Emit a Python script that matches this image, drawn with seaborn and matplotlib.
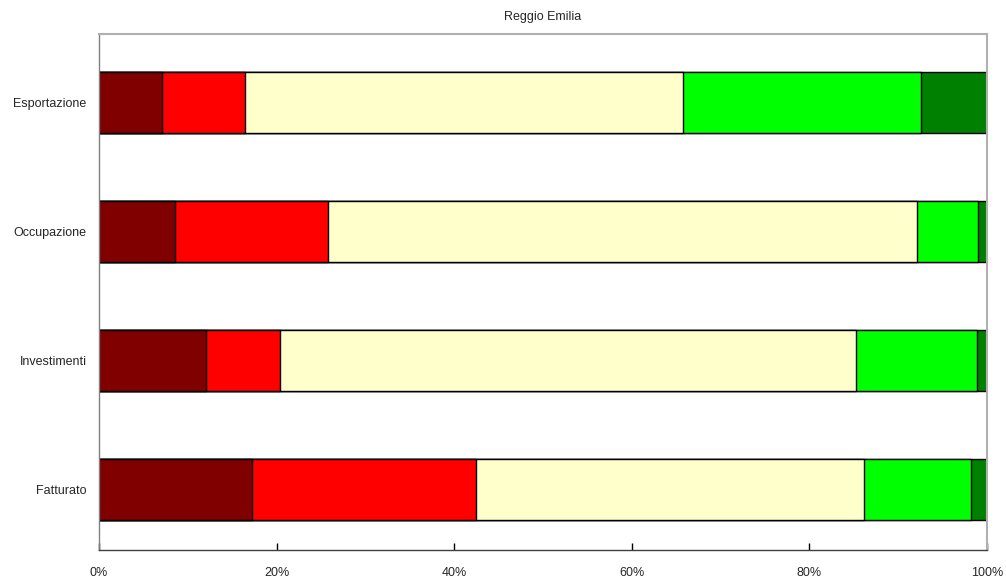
import matplotlib
matplotlib.use("Agg")
import matplotlib.pyplot as plt
import seaborn as sns
import numpy as np
import pandas as pd

# Survey outcomes per indicator (% of firms), from strong decrease to strong increase
categories = ["Esportazione", "Occupazione", "Investimenti", "Fatturato"]
forte_calo = [7.1, 8.6, 12.0, 17.2]
calo = [9.3, 17.2, 8.4, 25.3]
stabile = [49.4, 66.3, 64.8, 43.6]
aumento = [26.8, 6.9, 13.7, 12.1]
forte_aumento = [7.4, 1.0, 1.1, 1.8]

series = [forte_calo, calo, stabile, aumento, forte_aumento]
colors = ["#800000", "#FF0000", "#FFFFCC", "#00FF00", "#008000"]
xticks = [0, 20, 40, 60, 80, 100]
xticklabels = ["0%", "20%", "40%", "60%", "80%", "100%"]

sns.set_style("white")
plt.rcParams["font.family"] = ["Liberation Sans Narrow", "Liberation Sans", "DejaVu Sans"]

fig = plt.figure(figsize=(10.06, 5.83), dpi=100)
ax = fig.add_axes([0.0984, 0.0566, 0.8827, 0.8851])

# Stacked bars: draw cumulative totals from the rightmost segment down
cum = np.cumsum(np.array(series), axis=0)
for i in range(len(series) - 1, -1, -1):
    df = pd.DataFrame({"cat": categories, "val": cum[i]})
    sns.barplot(data=df, x="val", y="cat", order=categories, orient="h",
                color=colors[i], edgecolor="black", linewidth=1.0,
                width=0.47, saturation=1, ax=ax)

ax.set_xlim(0, 100)
ax.set_ylim(3.47, -0.53)
ax.set_xticks(xticks)
ax.set_xticklabels(xticklabels, fontsize=9)
ax.tick_params(axis="x", bottom=True, direction="in", length=5, width=1,
               pad=12.5, color="black")
ax.tick_params(axis="y", left=False, length=0, pad=9, labelsize=9)
ax.set_xlabel("")
ax.set_ylabel("")
ax.set_title("Reggio Emilia", fontsize=9, pad=10)

for side in ["top", "right"]:
    ax.spines[side].set_visible(True)
    ax.spines[side].set_color("#b0b0b0")
    ax.spines[side].set_linewidth(1.5)
ax.spines["left"].set_color("#808080")
ax.spines["left"].set_linewidth(1.0)
ax.spines["bottom"].set_color("#404040")
ax.spines["bottom"].set_linewidth(1.0)

fig.savefig("out.png", dpi=100, facecolor="white")
